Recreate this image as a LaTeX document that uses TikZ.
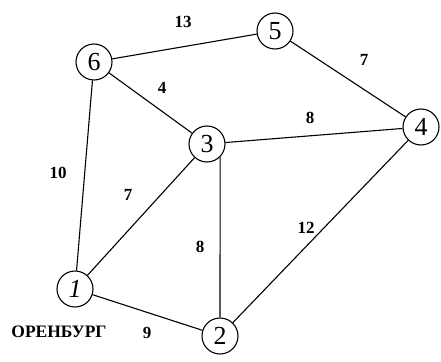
\documentclass[tikz,border=0pt]{standalone}
\usepackage{fontspec}
\setmainfont{Liberation Serif}
\begin{document}
\begin{tikzpicture}[x=1pt,y=-1pt,line width=1.1pt,
  town/.style={draw,circle,minimum size=36pt,inner sep=0pt,
    font=\fontsize{26}{26}\selectfont},
  dist/.style={font=\fontsize{17}{17}\selectfont\bfseries}]
  \useasboundingbox (0,0) rectangle (441,361);

  %% towns
  \node[town] (t6) at (94,62) {6};
  \node[town] (t5) at (275,31) {5};
  \node[town] (t3) at (207,144) {3};
  \node[town] (t4) at (421,127) {4};
  \node[town] (t1) at (75,289) {\itshape 1};
  \node[town] (t2) at (220,336) {2};
  \node[dist,font=\fontsize{17.5}{18}\selectfont\bfseries] (city) at (59,332) {ОРЕНБУРГ};

  %% roads
  \draw (t6) -- (t5);
  \draw (t5) -- (t4);
  \draw (t6) -- (t3);
  \draw (t3) -- (t4);
  \draw (t6) -- (t1);
  \draw (t1) -- (t3);
  \draw (t3.-45) -- (t2.north);
  \draw (t4) -- (t2);
  \draw (t1) -- (t2);

  %% distances
  \node[dist] at (183,22) {13};
  \node[dist] at (364,60) {7};
  \node[dist] at (162,88) {4};
  \node[dist] at (310,118) {8};
  \node[dist] at (58,173) {10};
  \node[dist] at (128,195) {7};
  \node[dist] at (200,247) {8};
  \node[dist] at (306,228) {12};
  \node[dist] at (147,333) {9};
\end{tikzpicture}
\end{document}
